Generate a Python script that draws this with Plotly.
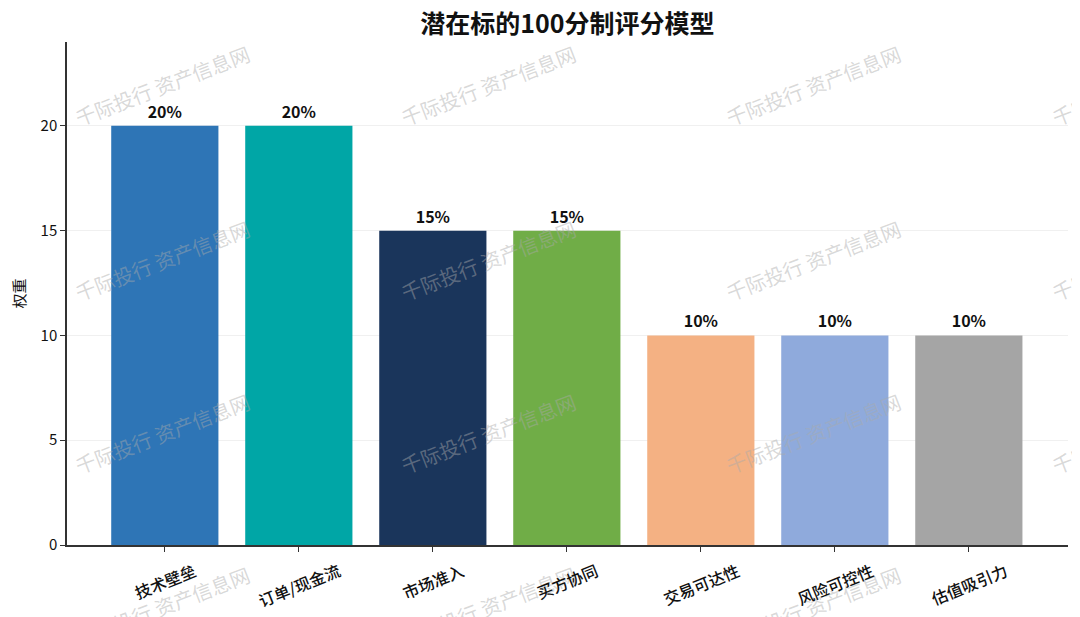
import plotly.graph_objects as go

# data
categories = ['技术壁垒', '订单/现金流', '市场准入', '买方协同', '交易可达性', '风险可控性', '估值吸引力']
weights = [20, 20, 15, 15, 10, 10, 10]
bar_colors = ['#2E75B6', '#00A6A6', '#1A355B', '#70AD47', '#F4B183', '#8FAADC', '#A5A5A5']
y_ticks = [0, 5, 10, 15, 20]

font_family = 'Noto Sans CJK SC'

# target plot area in page pixels (left, right, top, bottom); page body adds an 8px offset
off = 8
pl, pr, pt, pb = 67, 1068, 42, 545

fig = go.Figure()
fig.add_trace(go.Bar(
    x=categories,
    y=weights,
    marker=dict(color=bar_colors, line=dict(width=0)),
    width=0.8,
    text=[f'{w}%' for w in weights],
    textposition='outside',
    textfont=dict(family=font_family, size=16, color='#111111', weight='bold'),
    cliponaxis=False,
))

# watermark
wm_x = [162, 488, 813, 1139]
wm_y = [85, 260, 433, 606]
for wx in wm_x:
    for wy in wm_y:
        fig.add_annotation(
            text='千际投行 资产信息网', x=(wx - pl) / (pr - pl), y=(pb - wy) / (pb - pt),
            xref='paper', yref='paper', showarrow=False, textangle=-21,
            font=dict(family=font_family, size=20, color='rgba(170,170,170,0.45)'),
            xanchor='center', yanchor='middle',
        )

# category labels, centred under each tick (rotated)
for c in categories:
    fig.add_annotation(
        text=c, x=c, xref='x', y=(pb - 555) / (pb - pt), yref='paper',
        showarrow=False, textangle=-22, xanchor='center', yanchor='top',
        font=dict(family=font_family, size=16, color='#111111', weight=500),
    )

fig.update_layout(
    width=1080, height=617,
    margin=dict(l=pl - off, r=1080 - pr + off, t=pt - off, b=617 - pb + off),
    paper_bgcolor='white', plot_bgcolor='white',
    font=dict(family=font_family, color='#111111'),
    title=dict(text='<b>潜在标的100分制评分模型</b>', x=0.5, xref='paper', xanchor='center',
               y=1 - (24 - off) / 617, yanchor='middle', font=dict(size=25, color='#111111')),
    showlegend=False,
    bargap=0.2,
)
fig.update_xaxes(
    range=[-0.73, 6.74], showline=True, linecolor='#333333', linewidth=1.5,
    ticks='outside', ticklen=5, tickcolor='#333333', showticklabels=False,
    showgrid=False, automargin=False,
)
fig.update_yaxes(
    range=[0, 24], tickvals=y_ticks, showline=True, linecolor='#333333', linewidth=1.5,
    ticks='outside', ticklen=5, tickcolor='#333333', showgrid=True, gridcolor='#f0f0f0',
    tickfont=dict(size=15, color='#111111'), zeroline=False, automargin=False,
    title=dict(text='权重', font=dict(size=15), standoff=22),
)

fig.write_html('out.html')
